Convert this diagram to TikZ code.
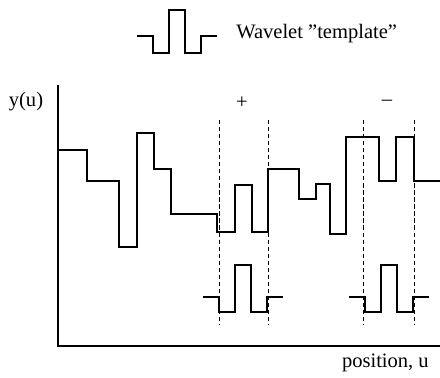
\documentclass[tikz,border=0pt]{standalone}
\usepackage{fontspec}
\setmainfont[Ligatures=ResetAll]{Liberation Serif}
\usetikzlibrary{positioning}

\tikzset{
    pics/wavelet/.style 2 args={code={
        \draw[line width=1.2pt] (0,0) -- (16,0) -- (16,#1) -- (32,#1) -- (32,#2)
            -- (48,#2) -- (48,#1) -- (64,#1) -- (64,0) -- (80,0);
    }}
}

\begin{document}
\begin{tikzpicture}[x=0.025cm, y=-0.025cm,
        signal/.style={line width=0.8pt},
        window/.style={densely dashed, line width=0.6pt},
        axis/.style={line width=1.2pt},
        txt/.style={font=\fontsize{14.6}{17}\selectfont, inner sep=0pt}]
    \useasboundingbox (0,0) rectangle (440,377);

    % axes
    \coordinate (o) at (58,346);
    \coordinate (ytop) at (58,85);
    \coordinate (xend) at (440,346);
    \draw[axis] (ytop) -- (o) -- (xend);
    \node[txt] (ylab) at (26,102) {y(u)};
    \node[txt, anchor=east] (xlab) at (429,363) {position, u};

    % template on top
    \pic at (137,36) {wavelet={17}{-26}};
    \node[txt, anchor=west] (title) at (236,34) {Wavelet "template"};

    % signal
    \draw[signal] (58,150) -| (87,181) -| (119,247) -| (137,133) -| (154,169)
        -| (171,214) -| (217,232) -| (235,185) -| (252,232) -| (268,169)
        -| (299,199) -| (316,184) -| (330,234) -| (346,137) -| (379,181)
        -| (396,137) -| (414,181) -- (440,181);

    % analysis windows
    \foreach \u in {219,268,363,414}
        \draw[window] (\u,120) -- (\u,325);
    \node[txt] (plus) at (242,103) {+};
    \node[txt] (minus) at (387,103) {–};

    % shifted wavelets
    \pic at (203,297) {wavelet={15}{-32}};
    \pic at (349,297) {wavelet={15}{-32}};
\end{tikzpicture}
\end{document}
